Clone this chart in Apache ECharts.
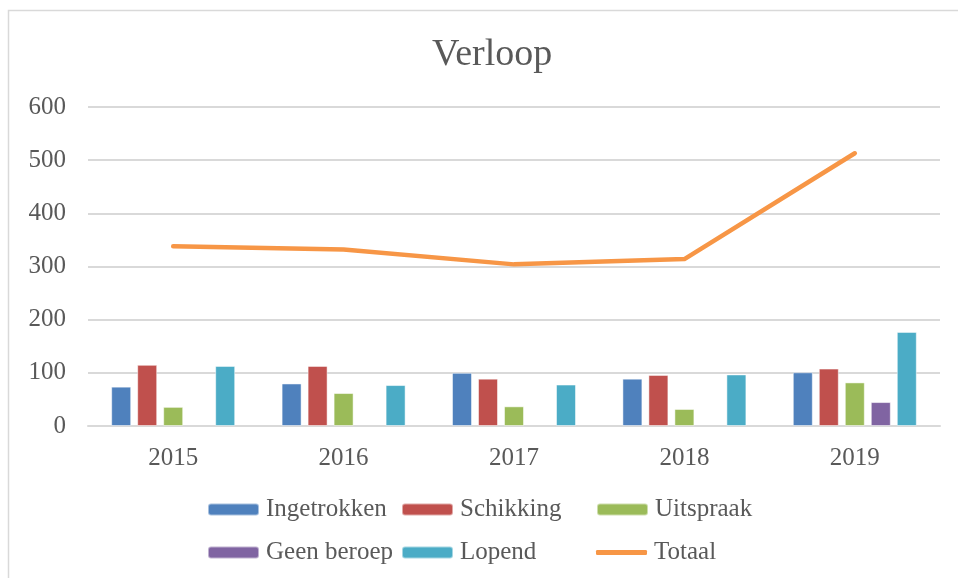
<!DOCTYPE html>
<html>
<head>
<meta charset="utf-8">
<script src="https://cdn.jsdelivr.net/npm/echarts@6/dist/echarts.min.js"></script>
<style>html,body{margin:0;padding:0;background:#fff}#c{width:958px;height:578px}</style>
</head>
<body>
<div id="c"></div>
<script>
const categories = ['2015', '2016', '2017', '2018', '2019'];
const ingetrokken = [74, 80, 100, 89, 101];
const schikking = [115, 113, 89, 96, 108];
const uitspraak = [36, 62, 37, 32, 82];
const geenBeroep = [null, null, null, null, 45];
const lopend = [113, 77, 78, 97, 177];
const totaal = [338, 332, 304, 314, 513];
const yTicks = [0, 100, 200, 300, 400, 500, 600];

const FONT = '"Liberation Serif", "DejaVu Serif", serif';
const TXT = '#595959';
const chart = echarts.init(document.getElementById('c'), null, {renderer: 'canvas'});

function bar(name, data, color) {
  return {name, type: 'bar', data, barWidth: 20, barGap: '30%',
    itemStyle: {color, borderColor: 'rgba(255,255,255,0.5)', borderWidth: 1}};
}
function leg(name, left, top, extra) {
  return Object.assign({data: [name], left, top, padding: 0, itemWidth: 51, itemHeight: 12, itemGap: 0,
    textStyle: {color: TXT, fontFamily: FONT, fontSize: 25, padding: [0, 0, 0, 2]}, selectedMode: false}, extra || {});
}
const legTop1 = 497, legTop2 = 540;
chart.setOption({
  animation: false,
  color: ['#4F81BD', '#C0504D', '#9BBB59', '#8064A2', '#4BACC6', '#F79646'],
  graphic: [{type: 'rect', shape: {x: 8.5, y: 10.5, width: 1200, height: 1200},
    style: {fill: 'none', stroke: '#d9d9d9', lineWidth: 1.5}, silent: true}],
  title: {text: 'Verloop', left: 427, top: 31,
    textStyle: {color: TXT, fontFamily: FONT, fontSize: 38, fontWeight: 'normal'}},
  grid: {left: 88, right: 18, top: 107, bottom: 152, containLabel: false},
  legend: [
    leg('Ingetrokken', 207, legTop1), leg('Schikking', 401, legTop1), leg('Uitspraak', 596, legTop1),
    leg('Geen beroep', 207, legTop2), leg('Lopend', 401, legTop2),
    leg('Totaal', 596, legTop2, {data: [{name: 'Totaal', icon: 'roundRect'}], itemHeight: 5,
      itemStyle: {color: '#F79646', borderWidth: 0}, lineStyle: {width: 0}})
  ],
  xAxis: {type: 'category', data: categories,
    axisLine: {lineStyle: {color: '#d9d9d9', width: 2}}, axisTick: {show: false},
    axisLabel: {color: TXT, fontFamily: FONT, fontSize: 25, margin: 20}},
  yAxis: {type: 'value', min: yTicks[0], max: yTicks[yTicks.length - 1], interval: 100,
    axisLine: {show: false}, axisTick: {show: false},
    axisLabel: {color: TXT, fontFamily: FONT, fontSize: 25, margin: 22},
    splitLine: {lineStyle: {color: '#d9d9d9', width: 2}}},
  series: [
    bar('Ingetrokken', ingetrokken, '#4F81BD'),
    bar('Schikking', schikking, '#C0504D'),
    bar('Uitspraak', uitspraak, '#9BBB59'),
    bar('Geen beroep', geenBeroep, '#8064A2'),
    bar('Lopend', lopend, '#4BACC6'),
    {name: 'Totaal', type: 'line', data: totaal, symbol: 'none', z: 5,
      lineStyle: {color: '#F79646', width: 4.5, cap: 'round', join: 'round'},
      itemStyle: {color: '#F79646'}}
  ]
});
</script>
</body>
</html>
